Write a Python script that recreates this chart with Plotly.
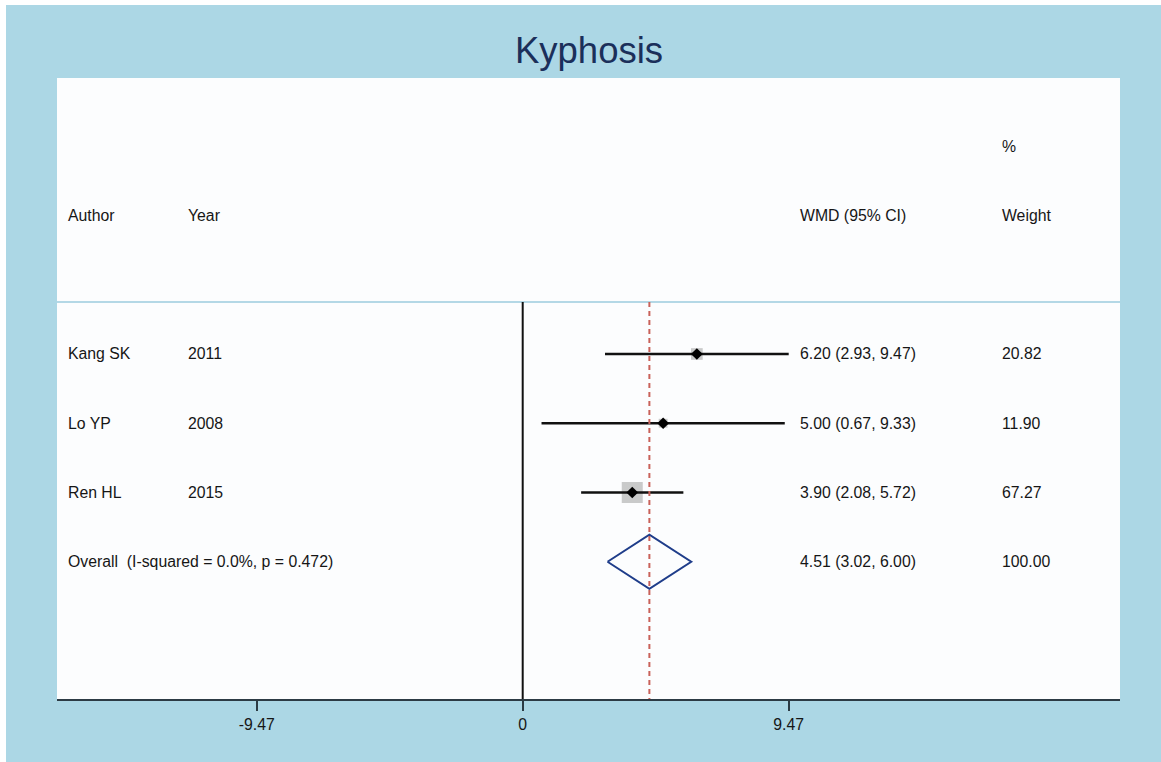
import plotly.graph_objects as go

# ---- data ----
authors = ["Kang SK", "Lo YP", "Ren HL"]
years = ["2011", "2008", "2015"]
est = [6.20, 5.00, 3.90]
lcl = [2.93, 0.67, 2.08]
ucl = [9.47, 9.33, 5.72]
weights = [20.82, 11.90, 67.27]
overall_label = "Overall  (I-squared = 0.0%, p = 0.472)"
overall_est = 4.51
overall_lcl = 3.02
overall_ucl = 6.00
overall_weight = 100.00
tick_vals = [-9.47, 0, 9.47]
tick_text = ["-9.47", "0", "9.47"]

# ---- layout constants (pixels) ----
W, H = 1161, 762
L, R, T, B = 57, 1120, 78, 699
X_RANGE = [-16.58, 21.265]
Y_RANGE = [5.982, -2.985]

rows = list(range(1, len(authors) + 1))
overall_row = len(authors) + 1

TXT = "#161616"
FONT = "Liberation Sans, Arial, sans-serif"
FS = 15.8

fig = go.Figure()

# study boxes (area proportional to weight)
box_k = 21 / (67.27 ** 0.5)
fig.add_trace(go.Scatter(
    x=est, y=rows, mode="markers",
    marker=dict(symbol="square", size=[box_k * w ** 0.5 for w in weights],
                color="#b4b4b4", line=dict(width=0)),
    hoverinfo="skip", showlegend=False))

# CI lines
for lo, hi, r in zip(lcl, ucl, rows):
    fig.add_trace(go.Scatter(x=[lo, hi], y=[r, r], mode="lines",
                             line=dict(color="#111111", width=2.6),
                             hoverinfo="skip", showlegend=False))

# point estimates
fig.add_trace(go.Scatter(
    x=est, y=rows, mode="markers",
    marker=dict(symbol="diamond", size=9, color="#000000"),
    hoverinfo="skip", showlegend=False))

# overall diamond
dh = 0.39
fig.add_trace(go.Scatter(
    x=[overall_lcl, overall_est, overall_ucl, overall_est, overall_lcl],
    y=[overall_row, overall_row - dh, overall_row, overall_row + dh, overall_row],
    mode="lines", line=dict(color="#1f3d8a", width=2),
    hoverinfo="skip", showlegend=False))

# ---- shapes ----
sep_y = 0.25
shapes = [
    dict(type="line", xref="paper", yref="y", x0=0, x1=1, y0=sep_y, y1=sep_y,
         line=dict(color="#b4d8e6", width=2)),
    dict(type="line", xref="x", yref="y", x0=0, x1=0, y0=sep_y, y1=Y_RANGE[0],
         line=dict(color="#111111", width=2)),
    dict(type="line", xref="x", yref="y", x0=overall_est, x1=overall_est,
         y0=sep_y, y1=Y_RANGE[0],
         line=dict(color="#c9625a", width=2, dash="5px,4px")),
    dict(type="rect", xref="paper", yref="paper",
         x0=(0 - L) / (R - L), x1=(W - L) / (R - L),
         y0=(B - 5) / (B - T), y1=(B - 0) / (B - T),
         fillcolor="white", line=dict(width=0), layer="above"),
    dict(type="rect", xref="paper", yref="paper",
         x0=(0 - L) / (R - L), x1=(6 - L) / (R - L),
         y0=(B - H) / (B - T), y1=(B - 0) / (B - T),
         fillcolor="white", line=dict(width=0), layer="above"),
]

# ---- text ----
col_author, col_year, col_ci, col_w = -16.26, -11.97, 9.80, 16.99
ann = []

def txt(x, y, s):
    ann.append(dict(x=x, y=y, xref="x", yref="y", text=s, showarrow=False,
                    xanchor="left", yanchor="middle",
                    font=dict(family=FONT, size=FS, color=TXT)))

txt(col_author, -1, "Author")
txt(col_year, -1, "Year")
txt(col_ci, -1, "WMD (95% CI)")
txt(col_w, -1, "Weight")
txt(col_w, -2, "%")
for a, yv, e, lo, hi, w, r in zip(authors, years, est, lcl, ucl, weights, rows):
    txt(col_author, r, a)
    txt(col_year, r, yv)
    txt(col_ci, r, f"{e:.2f} ({lo:.2f}, {hi:.2f})")
    txt(col_w, r, f"{w:.2f}")
txt(col_author, overall_row, overall_label)
txt(col_ci, overall_row, f"{overall_est:.2f} ({overall_lcl:.2f}, {overall_ucl:.2f})")
txt(col_w, overall_row, f"{overall_weight:.2f}")

fig.update_layout(
    width=W, height=H,
    margin=dict(l=L, r=W - R, t=T, b=H - B, pad=0),
    paper_bgcolor="#acd7e5",
    plot_bgcolor="#fcfdfe",
    title=dict(text="Kyphosis", x=589 / W, xanchor="center",
               y=1 - 50 / H, yanchor="middle",
               font=dict(family=FONT, size=36.5, color="#1b2f5a")),
    shapes=shapes,
    annotations=ann,
    showlegend=False,
    xaxis=dict(range=X_RANGE, showgrid=False, zeroline=False,
               showline=True, linecolor="#2c3b44", linewidth=2,
               ticks="outside", ticklen=10, tickwidth=2, tickcolor="#2c3b44",
               tickvals=tick_vals, ticktext=tick_text,
               tickfont=dict(family=FONT, size=FS, color=TXT),
               automargin=False, fixedrange=True),
    yaxis=dict(range=Y_RANGE, visible=False, showgrid=False, zeroline=False,
               automargin=False, fixedrange=True),
)

fig.write_html("out.html", config=dict(displayModeBar=False))
